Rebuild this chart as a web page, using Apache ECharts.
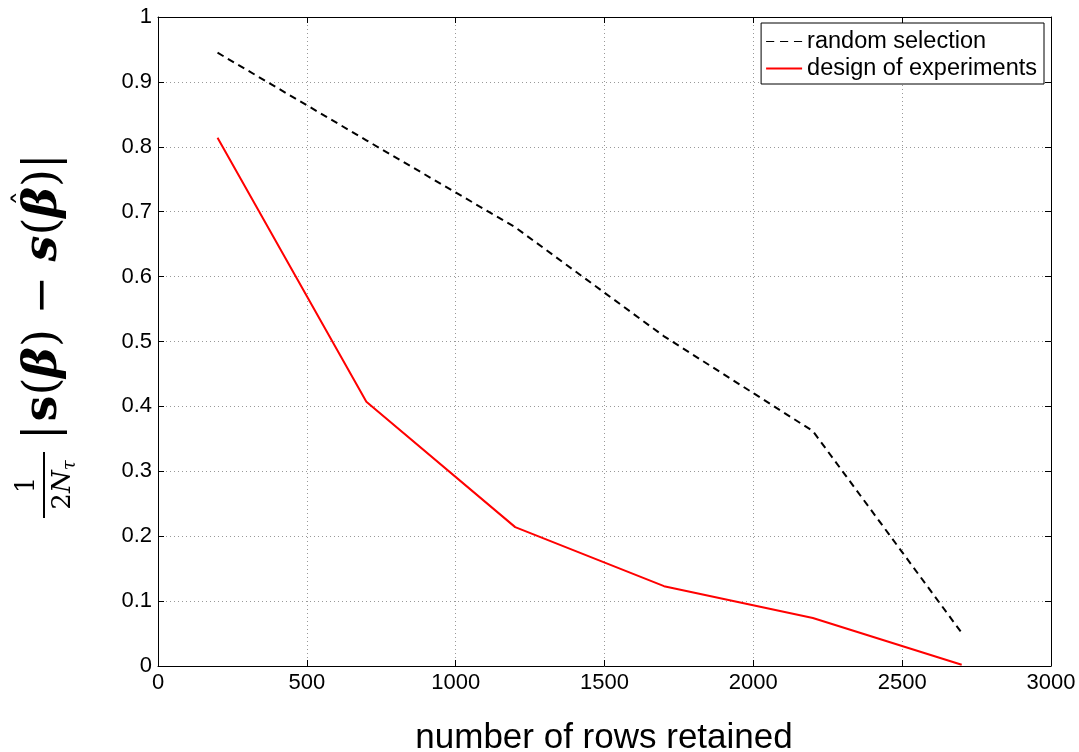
<!DOCTYPE html>
<html><head><meta charset="utf-8">
<script src="https://cdn.jsdelivr.net/npm/echarts@6/dist/echarts.min.js"></script>
<style>html,body{margin:0;padding:0;background:#fff}#c{width:1079px;height:752px}</style>
</head><body><div id="c"></div>
<script>
const rowsRetained = [200, 700, 1200, 1700, 2200, 2700];
const randomSelection = [0.945, 0.810, 0.676, 0.508, 0.362, 0.051];
const designOfExperiments = [0.814, 0.407, 0.214, 0.123, 0.074, 0.002];
const seriesNames = ['random selection', 'design of experiments'];
const xLabel = 'number of rows retained';

const chart = echarts.init(document.getElementById('c'));
const font = 'Liberation Sans, Arial, sans-serif';
const serif = 'DejaVu Serif, Liberation Serif, serif';
const dotted = {show: true, lineStyle: {color: '#999', width: 1, type: [1, 3]}};
const tick = {inside: true, length: 6, lineStyle: {color: '#000'}};
const mainX = {
  type: 'value', min: 0, max: 3000, interval: 500, position: 'bottom',
  axisLine: {lineStyle: {color: '#000', width: 1}},
  axisTick: tick,
  axisLabel: {color: '#000', fontSize: 22, fontFamily: font, margin: 6, formatter: v => String(v)},
  splitLine: dotted
};
const mainY = {
  type: 'value', min: 0, max: 1, interval: 0.1, position: 'left',
  axisLine: {lineStyle: {color: '#000', width: 1}},
  axisTick: tick,
  axisLabel: {color: '#000', fontSize: 22, fontFamily: font, margin: 6},
  splitLine: dotted
};
const topX = {type: 'value', min: 0, max: 3000, interval: 500, position: 'top',
  axisLine: {show: true, onZero: false, lineStyle: {color: '#000'}},
  axisTick: tick, axisLabel: {show: false}, splitLine: {show: false}};
const rightY = {type: 'value', min: 0, max: 1, interval: 0.1, position: 'right',
  axisLine: {show: true, onZero: false, lineStyle: {color: '#000'}},
  axisTick: tick, axisLabel: {show: false}, splitLine: {show: false}};

// y-axis label built from pieces (math-like typesetting)
const ctx = document.createElement('canvas').getContext('2d');
const FS = 46;
const styles = {
  r: `${FS}px ${serif}`,
  b: `bold ${FS}px ${serif}`,
  g: `italic bold ${FS}px ${serif}`
};
const pieces = [['|','r'],['s','b'],['(','r'],['β','g'],[')','r'],[' − ','r'],['s','g'],['(','r'],['β','g'],[')','r'],['|','r']];
const labelChildren = [];
let px = 80, hatX = 0;
pieces.forEach(([t, k], i) => {
  ctx.font = styles[k];
  const w = ctx.measureText(t).width;
  labelChildren.push({type: 'text', x: px, y: 0, style: {
    text: t, fill: '#000', fontFamily: serif, fontSize: FS,
    fontWeight: k === 'r' ? 'normal' : 'bold', fontStyle: k === 'g' ? 'italic' : 'normal',
    align: 'left', verticalAlign: 'middle'}});
  if (i === 8) hatX = px + w / 2 + 4;
  px += w + (t === '|' ? 3 : 0);
});
labelChildren.push({type: 'text', x: hatX, y: -18, style: {text: 'ˆ', fill: '#000', fontFamily: serif, fontSize: 30, align: 'center', verticalAlign: 'middle'}});

chart.setOption({
  animation: false,
  backgroundColor: '#fff',
  grid: {left: 158, right: 28, top: 17, bottom: 86},
  xAxis: [mainX, topX],
  yAxis: [mainY, rightY],
  legend: {
    orient: 'vertical', right: 35, top: 23,
    backgroundColor: '#fff', borderColor: '#000', borderWidth: 1,
    padding: [5, 7, 2, 5], itemGap: 0, itemWidth: 36, itemHeight: 2,
    textStyle: {color: '#000', fontSize: 23.5, fontFamily: font, lineHeight: 27},
    data: [
      {name: seriesNames[0], icon: 'path://M0,0L7,0L7,1L0,1ZM12,0L19,0L19,1L12,1ZM24,0L31,0L31,1L24,1Z', itemStyle: {color: '#000', borderWidth: 0}},
      {name: seriesNames[1], icon: 'rect', itemStyle: {color: '#f00', borderWidth: 0}}
    ]
  },
  series: [
    {name: seriesNames[0], type: 'line', data: rowsRetained.map((x, i) => [x, randomSelection[i]]),
     symbol: 'none', lineStyle: {color: '#000', width: 2, type: [7, 5]}, itemStyle: {color: '#000'}},
    {name: seriesNames[1], type: 'line', data: rowsRetained.map((x, i) => [x, designOfExperiments[i]]),
     symbol: 'none', lineStyle: {color: '#f00', width: 2}, itemStyle: {color: '#f00'}}
  ],
  graphic: [
    {type: 'text', x: 604, y: 738, style: {text: xLabel, fill: '#000', fontFamily: font, fontSize: 35, align: 'center', verticalAlign: 'middle'}},
    {type: 'group', x: 44, y: 520, rotation: Math.PI / 2,
     children: [
      {type: 'line', shape: {x1: 2, y1: 0, x2: 68, y2: 0}, style: {stroke: '#000', lineWidth: 2}},
      {type: 'text', x: 35, y: -4, style: {text: '1', fontFamily: serif, fontSize: 26, fill: '#000', align: 'center', verticalAlign: 'bottom'}},
      {type: 'text', x: 35, y: 3, style: {
        text: '{n|2}{i|N}{s|τ}', align: 'center', verticalAlign: 'top',
        rich: {n: {fontFamily: serif, fontSize: 26, fill: '#000'},
               i: {fontFamily: serif, fontSize: 26, fontStyle: 'italic', fill: '#000'},
               s: {fontFamily: serif, fontSize: 18, fontStyle: 'italic', fill: '#000', padding: [14, 0, 0, 0]}}}}
     ].concat(labelChildren)
    }
  ]
});
</script></body></html>
